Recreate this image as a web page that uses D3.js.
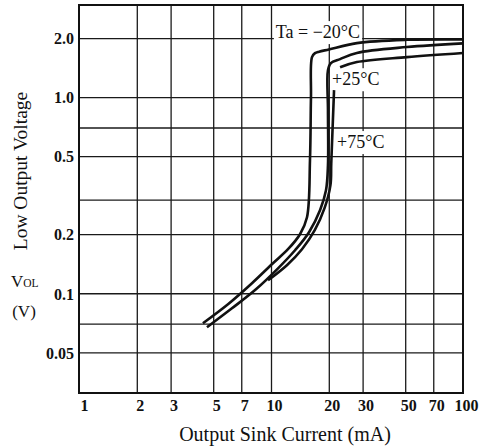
<!DOCTYPE html>
<html><head><meta charset="utf-8">
<script src="https://cdn.jsdelivr.net/npm/d3@7"></script>
<style>body{margin:0;background:#fff} svg{display:block}</style>
</head><body><svg id="c" width="481" height="447"></svg>
<script>
// ---- data ----
const xTickValues = [1, 2, 3, 5, 7, 10, 20, 30, 50, 70, 100];
const xGridValues = [2, 3, 5, 7, 10, 20, 30, 50, 70];
const yTickValues = [0.05, 0.1, 0.2, 0.5, 1.0, 2.0];
const yTickLabels = ["0.05", "0.1", "0.2", "0.5", "1.0", "2.0"];
const yGridValues = [0.05, 0.07, 0.1, 0.2, 0.3, 0.5, 0.7, 1.0, 2.0];

const seriesLabels = ["Ta = \u221220\u00B0C", "+25\u00B0C", "+75\u00B0C"];

const currentM20 = [4.42, 5.97, 7.96, 10.24, 12.26, 14.16, 15.40, 15.96, 16.15, 16.35, 16.95, 17.8, 20, 28, 51, 100];
const voltageM20 = [0.0703, 0.0879, 0.1125, 0.1423, 0.1677, 0.200, 0.244, 0.477, 1.0, 1.60, 1.677, 1.706, 1.75, 1.885, 1.96, 1.97];

const current25 = [4.64, 6.26, 8.35, 10.88, 13.34, 15.78, 18.0, 19.34, 19.8, 19.8, 19.8, 20.5, 22.9, 28, 51, 100];
const voltage25 = [0.0671, 0.0838, 0.1048, 0.134, 0.1657, 0.2048, 0.265, 0.335, 0.450, 0.858, 1.373, 1.49, 1.563, 1.68, 1.80, 1.88];

const current75 = [9.65, 12.1, 14.5, 16.9, 19.0, 20.4, 20.6, 21.3, null, 22.9, 28, 51, 100];
const voltage75 = [0.1165, 0.139, 0.1677, 0.2096, 0.2715, 0.356, 0.461, 1.086, null, 1.42, 1.51, 1.60, 1.68];

// ---- chart ----
const svg = d3.select("#c");
svg.append("rect").attr("width", 481).attr("height", 447).attr("fill", "#fff");

const x = d3.scaleLog().domain([1, 100]).range([79, 463]);
const y = d3.scaleLog().domain([0.031, 2.95]).range([393, 5]);
const [x0, x1] = x.range();
const [y0, y1] = y.range();

const serif = "'Liberation Serif', 'Times New Roman', serif";
const ink = "#111";

// grid
const gridG = svg.append("g");
gridG.append("g")
  .attr("transform", `translate(0,${y0})`)
  .call(d3.axisBottom(x).tickValues(xGridValues).tickSize(-(y0 - y1)).tickFormat(""))
  .call(g => g.select(".domain").remove())
  .call(g => g.selectAll("line").attr("stroke", "#1a1a1a").attr("stroke-width", 1.3));
gridG.append("g")
  .attr("transform", `translate(${x0},0)`)
  .call(d3.axisLeft(y).tickValues(yGridValues).tickSize(-(x1 - x0)).tickFormat(""))
  .call(g => g.select(".domain").remove())
  .call(g => g.selectAll("line").attr("stroke", "#1a1a1a").attr("stroke-width", 1.3));

const boxG = svg.append("g");
const curveG = svg.append("g");
const textG = svg.append("g");

// frame
svg.append("rect")
  .attr("x", x0).attr("y", y1).attr("width", x1 - x0).attr("height", y0 - y1)
  .attr("fill", "none").attr("stroke", ink).attr("stroke-width", 2);

// axis labels
svg.append("g")
  .attr("transform", `translate(0,${y0})`)
  .call(d3.axisBottom(x).tickValues(xTickValues).tickFormat(d => String(d)).tickSize(0).tickPadding(4))
  .call(g => g.select(".domain").remove())
  .call(g => g.selectAll("text")
    .attr("font-family", serif).attr("font-size", 16).attr("font-weight", "bold")
    .attr("fill", ink).attr("dx", (d) => d === 1 ? 5 : 3).attr("dy", "0.85em"));

svg.append("g")
  .attr("transform", `translate(${x0},0)`)
  .call(d3.axisLeft(y).tickValues(yTickValues).tickFormat((d, i) => yTickLabels[i]).tickSize(0).tickPadding(5))
  .call(g => g.select(".domain").remove())
  .call(g => g.selectAll("text")
    .attr("font-family", serif).attr("font-size", 16).attr("font-weight", "bold")
    .attr("fill", ink).attr("dy", "0.36em"));

// titles
svg.append("text")
  .attr("x", (x0 + x1) / 2 + 14).attr("y", 441)
  .attr("text-anchor", "middle")
  .attr("font-family", serif).attr("font-size", 20).attr("fill", ink)
  .text("Output Sink Current (mA)");

svg.append("text")
  .attr("transform", "translate(27,171) rotate(-90)")
  .attr("text-anchor", "middle")
  .attr("font-family", serif).attr("font-size", 19.5).attr("fill", ink)
  .text("Low Output Voltage");

const vol = svg.append("text")
  .attr("x", 11).attr("y", 287)
  .attr("font-family", serif).attr("font-size", 17).attr("fill", ink);
vol.append("tspan").text("V");
vol.append("tspan").attr("font-size", 11.5).text("OL");

svg.append("text")
  .attr("x", 24).attr("y", 317)
  .attr("text-anchor", "middle")
  .attr("font-family", serif).attr("font-size", 17).attr("fill", ink)
  .text("(V)");

// curves
const series = [
  [currentM20, voltageM20],
  [current25, voltage25],
  [current75, voltage75]
].map(([cs, vs]) => cs.map((c, i) => [c, vs[i]]));

const line = d3.line()
  .defined(d => d[0] != null && d[1] != null)
  .x(d => x(d[0])).y(d => y(d[1]))
  .curve(d3.curveCatmullRom.alpha(0.5));

curveG.selectAll("path").data(series).join("path")
  .attr("d", line)
  .attr("fill", "none").attr("stroke", ink)
  .attr("stroke-width", 2.6)
  .attr("stroke-linejoin", "round").attr("stroke-linecap", "butt");

// curve labels (anchored in data coordinates)
const labelAt = [[10.6, 2.0], [20.8, 1.15], [22.1, 0.55]];
seriesLabels.forEach((t, i) => {
  const tx = textG.append("text")
    .attr("x", x(labelAt[i][0])).attr("y", y(labelAt[i][1]))
    .attr("font-family", serif).attr("font-size", 18).attr("fill", ink)
    .text(t);
  const b = tx.node().getBBox();
  boxG.append("rect")
    .attr("x", b.x - 2).attr("y", b.y - 1).attr("width", b.width + 4).attr("height", b.height + 3)
    .attr("fill", "#fff");
});
</script></body></html>
